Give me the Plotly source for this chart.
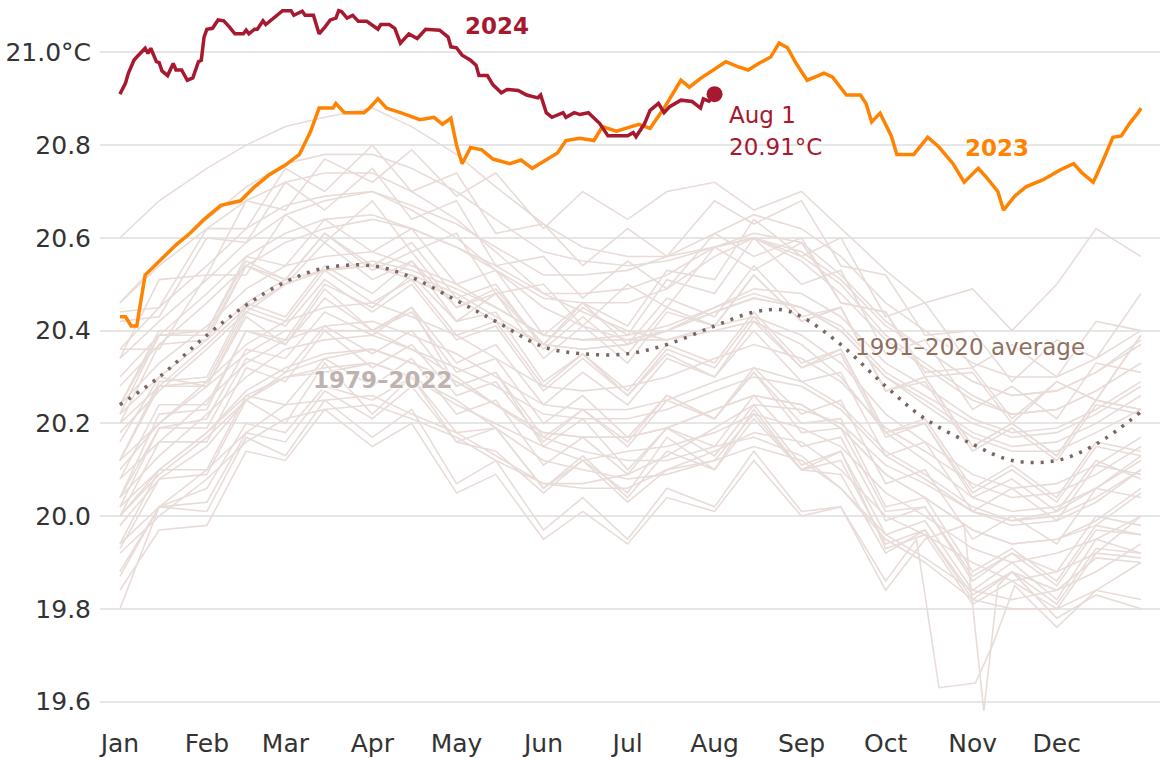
import plotly.graph_objects as go

# ---------------- data ----------------
months = ["Jan", "Feb", "Mar", "Apr", "May", "Jun", "Jul", "Aug", "Sep", "Oct", "Nov", "Dec"]
month_start_doy = [1, 32, 60, 91, 121, 152, 182, 213, 244, 274, 305, 335]
y_ticks = [19.6, 19.8, 20.0, 20.2, 20.4, 20.6, 20.8, 21.0]
y_labels = ["19.6", "19.8", "20.0", "20.2", "20.4", "20.6", "20.8", "21.0°C"]

bg_days = [1, 15, 32, 46, 60, 74, 91, 105, 121, 135, 152, 166, 182, 196, 213, 227, 244, 258, 274, 288, 305, 319, 335, 349, 365]
bg_days_spike = [1, 15, 32, 46, 60, 74, 91, 105, 121, 135, 152, 166, 182, 196, 213, 227, 244, 258, 274, 288, 302, 309, 314, 319, 335, 349, 365]
bg_days_plateau = [1, 15, 32, 46, 60, 74, 91, 105, 121, 135, 152, 166, 182, 196, 213, 227, 244, 258, 274, 285, 293, 306, 312, 320, 335, 349, 365]

bg_1979 = [19.80, 20.02, 20.06, 20.20, 20.18, 20.28, 20.25, 20.30, 20.16, 20.14, 20.05, 20.12, 20.03, 20.10, 20.12, 20.22, 20.10, 20.09, 19.92, 19.97, 19.83, 19.88, 19.84, 19.91, 19.90]
bg_1980 = [19.98, 20.08, 20.15, 20.25, 20.30, 20.31, 20.33, 20.30, 20.24, 20.20, 20.15, 20.12, 20.14, 20.15, 20.18, 20.22, 20.19, 20.15, 20.05, 20.00, 19.93, 19.90, 19.92, 19.95, 20.00]
bg_1981 = [19.93, 20.08, 20.09, 20.25, 20.20, 20.33, 20.22, 20.30, 20.18, 20.19, 20.06, 20.12, 20.05, 20.17, 20.10, 20.23, 20.10, 20.14, 19.96, 19.99, 19.84, 19.90, 19.82, 19.95, 19.92]
bg_1982 = [19.92, 20.00, 20.08, 20.16, 20.21, 20.23, 20.24, 20.21, 20.17, 20.12, 20.07, 20.07, 20.09, 20.13, 20.19, 20.24, 20.23, 20.20, 20.11, 20.07, 20.01, 19.99, 20.01, 20.06, 20.13]
bg_1983 = [20.16, 20.30, 20.28, 20.43, 20.37, 20.49, 20.40, 20.45, 20.28, 20.31, 20.15, 20.21, 20.10, 20.19, 20.13, 20.24, 20.11, 20.14, 19.93, 19.96, 19.81, 19.86, 19.80, 19.92, 19.91]
bg_1984 = [19.88, 20.02, 20.01, 20.17, 20.13, 20.25, 20.17, 20.23, 20.07, 20.12, 19.97, 20.04, 19.95, 20.06, 20.02, 20.14, 20.01, 20.02, 19.86, 19.95, 19.63, 19.64, 19.72, 19.85, 19.76, 19.84, 19.82]
bg_1985 = [19.84, 19.97, 19.98, 20.14, 20.12, 20.23, 20.15, 20.20, 20.05, 20.09, 19.95, 20.01, 19.94, 20.04, 20.01, 20.12, 20.00, 20.02, 19.84, 19.95, 19.98, 19.58, 19.85, 19.88, 19.78, 19.83, 19.80]
bg_1986 = [19.94, 20.02, 20.10, 20.18, 20.24, 20.25, 20.26, 20.22, 20.18, 20.13, 20.07, 20.06, 20.06, 20.10, 20.14, 20.18, 20.16, 20.10, 20.00, 19.96, 19.90, 19.86, 19.88, 19.92, 20.00]
bg_1987 = [20.02, 20.19, 20.21, 20.36, 20.34, 20.44, 20.39, 20.45, 20.33, 20.37, 20.24, 20.31, 20.24, 20.34, 20.30, 20.42, 20.32, 20.36, 20.18, 20.20, 20.04, 20.08, 20.01, 20.12, 20.08]
bg_1988 = [20.10, 20.20, 20.28, 20.35, 20.40, 20.40, 20.40, 20.36, 20.30, 20.24, 20.17, 20.14, 20.12, 20.12, 20.15, 20.17, 20.13, 20.06, 19.95, 19.90, 19.82, 19.80, 19.80, 19.84, 19.90]
bg_1989 = [19.87, 20.02, 20.03, 20.18, 20.16, 20.27, 20.21, 20.28, 20.16, 20.19, 20.06, 20.13, 20.04, 20.14, 20.10, 20.21, 20.10, 20.12, 19.94, 19.97, 19.82, 19.88, 19.81, 19.93, 19.92]
bg_1990 = [20.00, 20.10, 20.18, 20.27, 20.32, 20.35, 20.36, 20.33, 20.29, 20.24, 20.18, 20.17, 20.17, 20.19, 20.23, 20.26, 20.24, 20.19, 20.09, 20.04, 19.97, 19.94, 19.95, 19.98, 20.05]
bg_1991 = [20.00, 20.16, 20.16, 20.32, 20.29, 20.40, 20.32, 20.37, 20.26, 20.29, 20.16, 20.23, 20.16, 20.26, 20.21, 20.31, 20.18, 20.19, 20.01, 20.02, 19.86, 19.92, 19.88, 20.00, 19.98]
bg_1992 = [20.02, 20.10, 20.18, 20.26, 20.30, 20.32, 20.33, 20.30, 20.25, 20.19, 20.12, 20.10, 20.08, 20.09, 20.12, 20.15, 20.12, 20.06, 19.96, 19.91, 19.84, 19.82, 19.84, 19.88, 19.94]
bg_1993 = [19.94, 20.10, 20.10, 20.26, 20.24, 20.34, 20.28, 20.34, 20.22, 20.25, 20.11, 20.17, 20.09, 20.19, 20.15, 20.26, 20.15, 20.17, 19.99, 20.02, 19.87, 19.92, 19.85, 19.97, 19.96]
bg_1994 = [20.04, 20.13, 20.22, 20.30, 20.36, 20.38, 20.39, 20.36, 20.32, 20.28, 20.22, 20.21, 20.21, 20.23, 20.27, 20.30, 20.28, 20.23, 20.13, 20.08, 20.01, 19.98, 19.99, 20.03, 20.10]
bg_1995 = [20.08, 20.24, 20.24, 20.40, 20.37, 20.47, 20.40, 20.44, 20.31, 20.34, 20.20, 20.26, 20.17, 20.26, 20.21, 20.31, 20.20, 20.21, 20.02, 20.04, 19.88, 19.93, 19.86, 19.98, 19.96]
bg_1996 = [20.00, 20.09, 20.17, 20.25, 20.31, 20.34, 20.36, 20.33, 20.29, 20.24, 20.18, 20.17, 20.17, 20.19, 20.23, 20.26, 20.24, 20.19, 20.09, 20.04, 19.97, 19.94, 19.95, 19.99, 20.06]
bg_1997 = [20.04, 20.22, 20.23, 20.40, 20.38, 20.50, 20.45, 20.52, 20.42, 20.48, 20.37, 20.46, 20.41, 20.53, 20.51, 20.64, 20.56, 20.60, 20.43, 20.46, 20.32, 20.37, 20.30, 20.42, 20.40]
bg_1998 = [20.46, 20.54, 20.62, 20.68, 20.72, 20.74, 20.74, 20.70, 20.64, 20.57, 20.48, 20.44, 20.40, 20.38, 20.40, 20.42, 20.37, 20.30, 20.18, 20.12, 20.04, 20.01, 20.02, 20.06, 20.12]
bg_1999 = [20.04, 20.19, 20.19, 20.34, 20.31, 20.41, 20.35, 20.40, 20.28, 20.31, 20.17, 20.23, 20.15, 20.25, 20.21, 20.32, 20.22, 20.25, 20.07, 20.10, 19.95, 20.00, 19.94, 20.06, 20.04]
bg_2000 = [20.08, 20.16, 20.25, 20.33, 20.38, 20.41, 20.42, 20.39, 20.35, 20.30, 20.24, 20.23, 20.23, 20.25, 20.29, 20.32, 20.29, 20.24, 20.14, 20.09, 20.02, 19.99, 20.00, 20.04, 20.10]
bg_2001 = [20.12, 20.28, 20.28, 20.44, 20.41, 20.51, 20.44, 20.50, 20.38, 20.41, 20.27, 20.34, 20.26, 20.36, 20.32, 20.43, 20.32, 20.35, 20.17, 20.20, 20.05, 20.10, 20.03, 20.15, 20.13]
bg_2002 = [20.20, 20.28, 20.37, 20.45, 20.50, 20.53, 20.54, 20.52, 20.48, 20.43, 20.37, 20.36, 20.37, 20.40, 20.44, 20.47, 20.45, 20.41, 20.31, 20.26, 20.20, 20.17, 20.18, 20.22, 20.28]
bg_2003 = [20.24, 20.40, 20.40, 20.55, 20.51, 20.61, 20.53, 20.57, 20.45, 20.48, 20.34, 20.41, 20.33, 20.44, 20.41, 20.52, 20.42, 20.45, 20.27, 20.30, 20.15, 20.20, 20.13, 20.25, 20.23]
bg_2004 = [20.24, 20.33, 20.41, 20.49, 20.54, 20.56, 20.57, 20.54, 20.50, 20.45, 20.39, 20.38, 20.38, 20.40, 20.44, 20.47, 20.45, 20.40, 20.30, 20.25, 20.18, 20.15, 20.16, 20.20, 20.26]
bg_2005 = [20.22, 20.39, 20.40, 20.56, 20.54, 20.64, 20.57, 20.62, 20.50, 20.53, 20.39, 20.46, 20.37, 20.47, 20.43, 20.54, 20.43, 20.45, 20.27, 20.29, 20.14, 20.19, 20.12, 20.24, 20.22]
bg_2006 = [20.22, 20.30, 20.38, 20.46, 20.51, 20.53, 20.54, 20.51, 20.47, 20.42, 20.37, 20.36, 20.37, 20.40, 20.45, 20.49, 20.48, 20.43, 20.33, 20.28, 20.21, 20.18, 20.19, 20.23, 20.29]
bg_2007 = [20.24, 20.39, 20.39, 20.54, 20.50, 20.59, 20.51, 20.55, 20.42, 20.44, 20.29, 20.35, 20.26, 20.35, 20.30, 20.40, 20.29, 20.31, 20.13, 20.16, 20.01, 20.06, 19.99, 20.11, 20.09]
bg_2008 = [20.12, 20.20, 20.29, 20.37, 20.42, 20.45, 20.46, 20.43, 20.39, 20.34, 20.28, 20.27, 20.28, 20.30, 20.34, 20.37, 20.34, 20.29, 20.19, 20.14, 20.07, 20.04, 20.05, 20.09, 20.15]
bg_2009 = [20.12, 20.29, 20.30, 20.46, 20.43, 20.54, 20.48, 20.55, 20.45, 20.49, 20.37, 20.45, 20.39, 20.51, 20.48, 20.60, 20.50, 20.53, 20.35, 20.38, 20.23, 20.28, 20.21, 20.33, 20.31]
bg_2010 = [20.36, 20.45, 20.54, 20.62, 20.67, 20.69, 20.70, 20.66, 20.60, 20.53, 20.45, 20.41, 20.38, 20.38, 20.41, 20.43, 20.39, 20.33, 20.22, 20.16, 20.09, 20.06, 20.07, 20.11, 20.17]
bg_2011 = [20.12, 20.28, 20.29, 20.45, 20.42, 20.53, 20.46, 20.51, 20.39, 20.42, 20.28, 20.35, 20.27, 20.37, 20.33, 20.44, 20.33, 20.36, 20.18, 20.21, 20.06, 20.11, 20.04, 20.16, 20.14]
bg_2012 = [20.18, 20.27, 20.36, 20.44, 20.50, 20.53, 20.55, 20.53, 20.49, 20.45, 20.39, 20.38, 20.39, 20.41, 20.45, 20.48, 20.45, 20.40, 20.30, 20.24, 20.17, 20.14, 20.14, 20.18, 20.23]
bg_2013 = [20.20, 20.37, 20.38, 20.54, 20.51, 20.61, 20.54, 20.59, 20.47, 20.50, 20.36, 20.43, 20.35, 20.45, 20.41, 20.52, 20.42, 20.45, 20.27, 20.30, 20.15, 20.20, 20.13, 20.25, 20.23]
bg_2014 = [20.28, 20.37, 20.46, 20.54, 20.59, 20.62, 20.64, 20.62, 20.58, 20.54, 20.48, 20.48, 20.49, 20.52, 20.58, 20.61, 20.59, 20.52, 20.42, 20.36, 20.29, 20.26, 20.27, 20.31, 20.37]
bg_2015 = [20.34, 20.51, 20.52, 20.68, 20.66, 20.77, 20.72, 20.79, 20.69, 20.74, 20.62, 20.70, 20.64, 20.70, 20.72, 20.66, 20.70, 20.62, 20.53, 20.46, 20.49, 20.40, 20.50, 20.62, 20.56]
bg_2016 = [20.60, 20.68, 20.75, 20.80, 20.84, 20.86, 20.88, 20.84, 20.78, 20.71, 20.63, 20.58, 20.56, 20.56, 20.58, 20.60, 20.55, 20.48, 20.38, 20.32, 20.25, 20.22, 20.23, 20.27, 20.33]
bg_2017 = [20.42, 20.43, 20.60, 20.59, 20.72, 20.66, 20.75, 20.64, 20.68, 20.54, 20.56, 20.47, 20.55, 20.49, 20.61, 20.56, 20.60, 20.46, 20.44, 20.30, 20.31, 20.20, 20.29, 20.25, 20.39]
bg_2018 = [20.30, 20.39, 20.48, 20.56, 20.61, 20.64, 20.65, 20.62, 20.58, 20.53, 20.47, 20.46, 20.46, 20.49, 20.56, 20.60, 20.57, 20.51, 20.41, 20.36, 20.29, 20.26, 20.27, 20.31, 20.38]
bg_2019 = [20.44, 20.45, 20.62, 20.62, 20.75, 20.70, 20.80, 20.70, 20.74, 20.61, 20.63, 20.54, 20.62, 20.56, 20.68, 20.63, 20.68, 20.54, 20.52, 20.39, 20.40, 20.29, 20.38, 20.34, 20.48]
bg_2020 = [20.46, 20.55, 20.64, 20.71, 20.76, 20.78, 20.78, 20.75, 20.70, 20.64, 20.57, 20.55, 20.54, 20.55, 20.58, 20.60, 20.56, 20.50, 20.39, 20.33, 20.26, 20.22, 20.23, 20.27, 20.33]
bg_2021 = [20.36, 20.36, 20.52, 20.52, 20.65, 20.59, 20.68, 20.57, 20.61, 20.48, 20.50, 20.41, 20.50, 20.45, 20.58, 20.53, 20.59, 20.46, 20.44, 20.31, 20.32, 20.21, 20.29, 20.25, 20.39]
bg_2022 = [20.34, 20.42, 20.51, 20.59, 20.65, 20.68, 20.70, 20.67, 20.63, 20.58, 20.52, 20.52, 20.53, 20.56, 20.61, 20.65, 20.62, 20.56, 20.46, 20.40, 20.33, 20.30, 20.30, 20.34, 20.40]

avg_days = [1, 15, 32, 46, 60, 74, 91, 105, 121, 135, 152, 166, 182, 196, 213, 227, 237, 244, 258, 274, 288, 305, 319, 335, 349, 365]
avg_vals = [20.24, 20.30, 20.39, 20.455, 20.505, 20.535, 20.54, 20.515, 20.465, 20.42, 20.365, 20.35, 20.35, 20.37, 20.41, 20.44, 20.445, 20.43, 20.37, 20.28, 20.21, 20.155, 20.12, 20.12, 20.155, 20.225]

y2023_days = [1, 3, 5, 7, 10, 15, 21, 26, 31, 37, 44, 49, 54, 60, 65, 69, 72, 74, 77, 78, 81, 88, 90, 93, 96, 101, 108, 113, 116, 119, 121, 123, 126, 130, 134, 140, 144, 148, 153, 157, 160, 165, 170, 173, 178, 184, 186, 190, 195, 201, 204, 208, 212, 217, 221, 225, 229, 233, 236, 239, 242, 246, 250, 252, 255, 260, 265, 267, 269, 272, 276, 278, 284, 289, 293, 298, 302, 307, 310, 314, 316, 320, 324, 330, 336, 341, 344, 348, 351, 355, 358, 361, 364, 365]
y2023_vals = [20.43, 20.43, 20.41, 20.41, 20.52, 20.55, 20.585, 20.61, 20.64, 20.67, 20.68, 20.71, 20.735, 20.757, 20.78, 20.83, 20.88, 20.88, 20.88, 20.89, 20.87, 20.87, 20.88, 20.90, 20.88, 20.87, 20.855, 20.86, 20.845, 20.858, 20.80, 20.76, 20.795, 20.79, 20.77, 20.76, 20.768, 20.75, 20.768, 20.783, 20.81, 20.815, 20.81, 20.84, 20.83, 20.84, 20.845, 20.836, 20.88, 20.94, 20.925, 20.944, 20.96, 20.98, 20.97, 20.962, 20.977, 20.99, 21.02, 21.01, 20.977, 20.94, 20.95, 20.955, 20.947, 20.908, 20.908, 20.89, 20.85, 20.869, 20.82, 20.78, 20.78, 20.817, 20.796, 20.76, 20.72, 20.75, 20.73, 20.70, 20.66, 20.69, 20.71, 20.725, 20.746, 20.76, 20.74, 20.72, 20.76, 20.817, 20.82, 20.847, 20.87, 20.88]

y2024_days = [1, 3, 4, 6, 7, 10, 11, 12, 14, 15, 16, 18, 20, 21, 23, 25, 27, 29, 30, 31, 32, 34, 36, 38, 40, 42, 45, 46, 47, 49, 50, 52, 53, 56, 57, 59, 62, 63, 66, 67, 70, 72, 74, 76, 78, 79, 80, 82, 84, 86, 89, 91, 93, 94, 97, 99, 101, 104, 107, 110, 115, 118, 119, 121, 123, 126, 128, 129, 132, 134, 137, 139, 143, 146, 150, 151, 153, 155, 159, 160, 163, 165, 168, 172, 175, 182, 184, 185, 188, 190, 193, 195, 197, 201, 205, 208, 209, 211, 213]
y2024_vals = [20.91, 20.934, 20.955, 20.983, 20.99, 21.009, 20.998, 21.009, 20.98, 20.978, 20.96, 20.95, 20.976, 20.962, 20.962, 20.94, 20.945, 20.98, 20.983, 21.033, 21.05, 21.052, 21.07, 21.068, 21.055, 21.04, 21.04, 21.048, 21.04, 21.05, 21.05, 21.068, 21.06, 21.076, 21.08, 21.09, 21.09, 21.08, 21.089, 21.08, 21.08, 21.04, 21.054, 21.07, 21.074, 21.09, 21.088, 21.074, 21.08, 21.067, 21.067, 21.058, 21.05, 21.06, 21.06, 21.052, 21.02, 21.04, 21.03, 21.05, 21.048, 21.033, 21.012, 21.01, 20.994, 20.983, 20.972, 20.95, 20.95, 20.93, 20.913, 20.92, 20.918, 20.908, 20.902, 20.908, 20.87, 20.86, 20.87, 20.86, 20.87, 20.866, 20.87, 20.847, 20.82, 20.82, 20.827, 20.818, 20.846, 20.875, 20.89, 20.87, 20.883, 20.897, 20.894, 20.88, 20.90, 20.895, 20.91]

bg_years = list(range(1979, 2023))
bg_series = [bg_1979, bg_1980, bg_1981, bg_1982, bg_1983, bg_1984, bg_1985, bg_1986, bg_1987,
             bg_1988, bg_1989, bg_1990, bg_1991, bg_1992, bg_1993, bg_1994, bg_1995, bg_1996,
             bg_1997, bg_1998, bg_1999, bg_2000, bg_2001, bg_2002, bg_2003, bg_2004, bg_2005,
             bg_2006, bg_2007, bg_2008, bg_2009, bg_2010, bg_2011, bg_2012, bg_2013, bg_2014,
             bg_2015, bg_2016, bg_2017, bg_2018, bg_2019, bg_2020, bg_2021, bg_2022]

# ---------------- styles ----------------
C_BG = "#e8dcd8"
C_AVG = "#7b6561"
C_2023 = "#ff8200"
C_2024 = "#a6192e"
FONT = "DejaVu Sans"

fig = go.Figure()

for yr, vals in zip(bg_years, bg_series):
    if yr == 1985:
        days = bg_days_spike
    elif yr == 1984:
        days = bg_days_plateau
    else:
        days = bg_days
    fig.add_trace(go.Scatter(x=days, y=vals, mode="lines", name=str(yr),
                             line=dict(color=C_BG, width=1.6), hoverinfo="skip"))

fig.add_trace(go.Scatter(x=avg_days, y=avg_vals, mode="lines", name="1991-2020 average",
                         line=dict(color=C_AVG, width=3.5, dash="3px,7px", shape="spline")))

fig.add_trace(go.Scatter(x=y2023_days, y=y2023_vals, mode="lines", name="2023",
                         line=dict(color=C_2023, width=3.5)))
fig.add_trace(go.Scatter(x=y2024_days, y=y2024_vals, mode="lines", name="2024",
                         line=dict(color=C_2024, width=3.5)))
fig.add_trace(go.Scatter(x=[y2024_days[-1]], y=[y2024_vals[-1]], mode="markers", name="Aug 1",
                         marker=dict(color=C_2024, size=16)))

halo = "0 0 3px #fff, 0 0 3px #fff, 0 0 3px #fff"
fig.add_annotation(x=135.4, y=21.057, text="<b>2024</b>", showarrow=False,
                   font=dict(family=FONT, size=23, color=C_2024))
fig.add_annotation(x=313.7, y=20.794, text="<b>2023</b>", showarrow=False,
                   font=dict(family=FONT, size=23, color=C_2023, shadow=halo))
fig.add_annotation(x=217.4, y=20.865, text="Aug 1", showarrow=False, xanchor="left",
                   font=dict(family=FONT, size=23, color=C_2024))
fig.add_annotation(x=217.4, y=20.796, text="20.91°C", showarrow=False, xanchor="left",
                   font=dict(family=FONT, size=23, color=C_2024))
fig.add_annotation(x=262.3, y=20.365, text="1991–2020 average", showarrow=False, xanchor="left",
                   font=dict(family=FONT, size=23, color="#8f6f5e", shadow=halo))
fig.add_annotation(x=94.8, y=20.293, text="<b>1979–2022</b>", showarrow=False,
                   font=dict(family=FONT, size=23, color="#bfb3b0", shadow=halo))

fig.update_layout(
    width=1160, height=758,
    margin=dict(l=100, r=0, t=0, b=36),
    plot_bgcolor="white", paper_bgcolor="white",
    showlegend=False,
    font=dict(family=FONT, size=25, color="#333333"),
)
fig.update_xaxes(range=[-6.1, 371.8], tickmode="array", tickvals=month_start_doy, ticktext=months,
                 showgrid=False, zeroline=False, showline=False, ticks="", ticklabelstandoff=4)
fig.update_yaxes(range=[19.556, 21.113], tickmode="array", tickvals=y_ticks, ticktext=y_labels,
                 showgrid=True, gridcolor="#e6e6e6", gridwidth=1.5, zeroline=False, showline=False,
                 ticks="", ticklabelstandoff=8)

fig.write_html("out.html", config={"displayModeBar": False},
               post_script="document.body.style.margin='0';")
